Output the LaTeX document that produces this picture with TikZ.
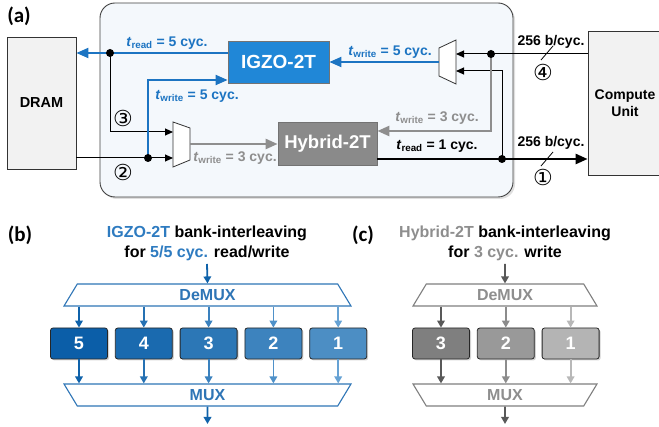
\documentclass[tikz,border=0pt]{standalone}
\usepackage{fontspec}
\setmainfont{Liberation Sans}
\newfontfamily\lblfont{Carlito}
\newfontfamily\symfont{DejaVu Sans}
\usetikzlibrary{shapes.geometric, positioning, arrows.meta, shadows}
\definecolor{igzo}{HTML}{2087D7}
\definecolor{bluel}{HTML}{1C74C2}
\definecolor{titb}{HTML}{2E7BC0}
\definecolor{grayl}{HTML}{8E8E8E}
\definecolor{hybgray}{HTML}{8A8A8A}
\definecolor{dramgray}{HTML}{F2F2F2}
\definecolor{panelbg}{HTML}{F4F8FC}
\definecolor{dmxb}{HTML}{2E75B6}
\definecolor{dmxc}{HTML}{7F7F7F}
\definecolor{bf5}{HTML}{0B5EA8}
\definecolor{bf4}{HTML}{1A6AAF}
\definecolor{bf3}{HTML}{2C77B6}
\definecolor{bf2}{HTML}{3D83BE}
\definecolor{bf1}{HTML}{4C8EC4}
\definecolor{ba5}{HTML}{0F62AA}
\definecolor{ba4}{HTML}{2571B3}
\definecolor{ba3}{HTML}{3A81BE}
\definecolor{ba2}{HTML}{4F91C9}
\definecolor{ba1}{HTML}{66A2D4}
\definecolor{cf3}{HTML}{7F7F7F}
\definecolor{cf2}{HTML}{999999}
\definecolor{cf1}{HTML}{B4B4B4}
\definecolor{ca3}{HTML}{595959}
\definecolor{ca2}{HTML}{8C8C8C}
\definecolor{ca1}{HTML}{B8B8B8}
\newcommand{\tsym}[1]{\textit{t}\textsubscript{#1}}

\begin{document}
\begin{tikzpicture}[x=1pt, y=-1pt, font=\bfseries, node distance=7pt,
 blk/.style={draw=black!80, line width=0.8pt, fill=dramgray},
 mem/.style={draw=black!55, line width=0.8pt, text=white, font=\bfseries\fontsize{19}{19}\selectfont},
 muxa/.style={draw=black!80, line width=0.8pt, fill=white},
 lab/.style={font=\bfseries\fontsize{14}{14}\selectfont, inner sep=1pt},
 num/.style={font=\symfont\fontsize{22}{22}\selectfont, inner sep=0pt},
 lbl/.style={font=\lblfont\bfseries\fontsize{21}{21}\selectfont},
 thinw/.style={draw=black, line width=1pt, -{Triangle[length=8pt,width=7pt]}},
 bluebus/.style={draw=bluel, line width=2pt, -{Triangle[length=12pt,width=10pt]}},
 graybus/.style={draw=grayl, line width=2.5pt, -{Triangle[length=12pt,width=10pt]}},
 blkbus/.style={draw=black, line width=2.5pt, -{Triangle[length=12pt,width=10pt]}},
 ttl/.style={align=center, font=\bfseries\fontsize{16}{20}\selectfont},
 mx/.style={trapezium, trapezium left angle=40, trapezium right angle=40, trapezium stretches body, line width=1.1pt, fill=white, inner sep=0pt, minimum height=22pt, font=\bfseries\fontsize{16}{16}\selectfont},
 bank/.style={draw=black!85, line width=0.8pt, rounded corners=2.5pt, minimum width=57pt, minimum height=31pt, text=white, font=\bfseries\fontsize{18}{18}\selectfont, drop shadow={opacity=0.35, shadow xshift=1.5pt, shadow yshift=-1.5pt}},
 bk/.style={line width=1.8pt, -{Triangle[length=7pt,width=7.5pt]}}]
 \useasboundingbox (0,0) rectangle (659,427);

 \node[draw=black!75, line width=0.9pt, fill=panelbg, rounded corners=15pt, minimum width=413pt, minimum height=194pt, drop shadow={opacity=0.25, shadow xshift=2pt, shadow yshift=-2pt}] (pan) at (306.5,100) {};
 \node[lbl] (la) at (19,16) {(a)};
 \node[blk, minimum width=69pt, minimum height=132pt, font=\bfseries\fontsize{14.5}{14.5}\selectfont] (dram) at (41.5,103) {DRAM};
 \node[blk, minimum width=80pt, minimum height=144pt, font=\bfseries\fontsize{14}{16.5}\selectfont] (cu) at (628,103) {};
 \node[align=center, font=\bfseries\fontsize{14}{16.5}\selectfont] (cut) at (625,103) {Compute\\Unit};
 \node[mem, fill=igzo, minimum width=101pt, minimum height=42pt] (igzo) at (278.5,62) {IGZO-2T};
 \node[mem, fill=hybgray, minimum width=99pt, minimum height=43pt, font=\bfseries\fontsize{18.5}{18.5}\selectfont] (hyb) at (327.5,144) {Hybrid-2T};

 \draw[muxa] (173,122) -- (190,128) -- (190,160) -- (173,167) -- cycle;
 \coordinate (mxa-i1) at (173,132);
 \coordinate (mxa-i2) at (173,158);
 \coordinate (mxa-o) at (190,144);
 \draw[muxa] (439,48) -- (456,40) -- (456,84) -- (439,76) -- cycle;
 \coordinate (mxb-i1) at (456,54);
 \coordinate (mxb-i2) at (456,71);
 \coordinate (mxb-o) at (439,62);
 \coordinate (ja) at (110,53);
 \coordinate (jb) at (148,158);
 \coordinate (jc) at (491,54);
 \coordinate (jd) at (502,159);

 \draw[bluebus] ([yshift=9pt]igzo.west) -- (dram.east |- ja);
 \draw[thinw] (ja) |- (mxa-i1);
 \draw[thinw] (dram.east |- jb) -- (mxa-i2);
 \draw[bluebus] (jb) |- ([yshift=-18pt]igzo.west);
 \draw[graybus] (mxa-o) -- (hyb.west);
 \draw[blkbus] ([yshift=-15pt]hyb.east) -- (cu.west |- jd);
 \draw[thinw] (jd) |- (mxb-i2);
 \draw[thinw] (cu.west |- jc) -- (mxb-i1);
 \draw[graybus] (jc) |- ([yshift=13pt]hyb.east);
 \draw[bluebus] (mxb-o) -- (igzo.east);
 \foreach \j in {ja,jb,jc,jd} \fill (\j) circle (4pt);
 \draw[line width=0.8pt] (541,60) -- (553,46);
 \draw[line width=0.8pt] (541,166) -- (553,152);

 \node[lab, text=bluel] (tra) at (167,43) {\tsym{read} = 5 cyc.};
 \node[lab, text=bluel] (twa) at (197,96) {\tsym{write} = 5 cyc.};
 \node[lab, text=bluel] (twb) at (390,52) {\tsym{write} = 5 cyc.};
 \node[lab, text=grayl] (twc) at (235,158) {\tsym{write} = 3 cyc.};
 \node[lab, text=grayl] (twd) at (437,118) {\tsym{write} = 3 cyc.};
 \node[lab] (trb) at (437,146) {\tsym{read} = 1 cyc.};
 \node[lab] (bwa) at (551,42) {256 b/cyc.};
 \node[lab] (bwb) at (551,143) {256 b/cyc.};
 \node[num] (n4) at (543,72) {④};
 \node[num] (n1) at (543,177) {①};
 \node[num] (n3) at (123,118) {③};
 \node[num] (n2) at (123,172) {②};

 \node[lbl] (lb) at (20,235) {(b)};
 \node[ttl] (ttb) at (207,243) {\textcolor{titb}{IGZO-2T} bank-interleaving\\for \textcolor{titb}{5/5 cyc.} read/write};
 \node[mx, draw=dmxb, text=dmxb, minimum width=287pt] (dmb) at (207.5,295) {DeMUX};
 \node[bank, fill=bf5] (b5) at (79,343.5) {5};
 \node[bank, fill=bf4, right=of b5] (b4) {4};
 \node[bank, fill=bf3, right=of b4] (b3) {3};
 \node[bank, fill=bf2, right=of b3] (b2) {2};
 \node[bank, fill=bf1, right=of b2] (b1) {1};
 \node[mx, draw=dmxb, text=dmxb, minimum width=287pt, shape border rotate=180] (mub) at (207.5,395) {MUX};
 \coordinate (outb) at (207.5,424);
 \draw[bk, ba5] (ttb.south) -- (dmb.north);
 \draw[bk, ba5] (b5 |- dmb.south) -- (b5.north);
 \draw[bk, ba4] (b4 |- dmb.south) -- (b4.north);
 \draw[bk, ba3] (b3 |- dmb.south) -- (b3.north);
 \draw[bk, ba2] (b2 |- dmb.south) -- (b2.north);
 \draw[bk, ba1] (b1 |- dmb.south) -- (b1.north);
 \draw[bk, ba5] (b5.south) -- (b5 |- mub.north);
 \draw[bk, ba4] (b4.south) -- (b4 |- mub.north);
 \draw[bk, ba3] (b3.south) -- (b3 |- mub.north);
 \draw[bk, ba2] (b2.south) -- (b2 |- mub.north);
 \draw[bk, ba1] (b1.south) -- (b1 |- mub.north);
 \draw[bk, ba5] (mub.south) -- (outb);

 \node[lbl] (lc) at (363,235) {(c)};
 \node[ttl] (ttc) at (505,243) {\textcolor{grayl}{Hybrid-2T} bank-interleaving\\for \textcolor{grayl}{3 cyc.} write};
 \node[mx, draw=dmxc, text=grayl, minimum width=184pt] (dmc) at (505,295) {DeMUX};
 \node[bank, fill=cf3] (c3) at (441,343.5) {3};
 \node[bank, fill=cf2, right=of c3] (c2) {2};
 \node[bank, fill=cf1, right=of c2] (c1) {1};
 \node[mx, draw=dmxc, text=grayl, minimum width=184pt, shape border rotate=180] (muc) at (505,395) {MUX};
 \coordinate (outc) at (505,424);
 \draw[bk, ca3] (ttc.south) -- (dmc.north);
 \draw[bk, ca3] (c3 |- dmc.south) -- (c3.north);
 \draw[bk, ca2] (c2 |- dmc.south) -- (c2.north);
 \draw[bk, ca1] (c1 |- dmc.south) -- (c1.north);
 \draw[bk, ca3] (c3.south) -- (c3 |- muc.north);
 \draw[bk, ca2] (c2.south) -- (c2 |- muc.north);
 \draw[bk, ca1] (c1.south) -- (c1 |- muc.north);
 \draw[bk, ca3] (muc.south) -- (outc);
\end{tikzpicture}
\end{document}
